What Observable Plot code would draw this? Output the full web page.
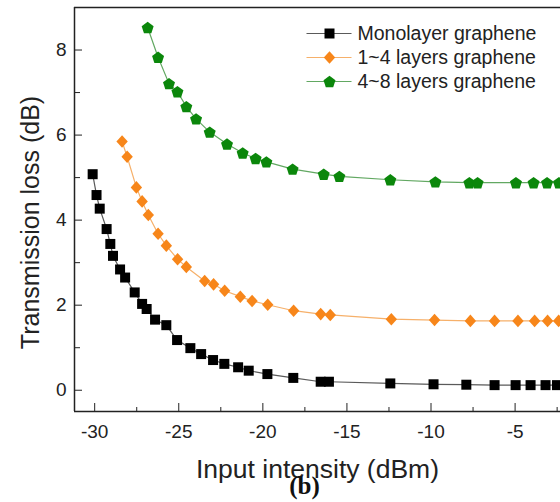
<!DOCTYPE html>
<html><head><meta charset="utf-8">
<script src="https://cdn.jsdelivr.net/npm/d3@7"></script>
<script src="https://cdn.jsdelivr.net/npm/@observablehq/plot@0.6"></script>
<style>body{margin:0;background:#fff;overflow:hidden} svg{display:block}</style>
</head><body><div id="chart"></div>
<script>
const seriesNames = ["Monolayer graphene", "1~4 layers graphene", "4~8 layers graphene"];

const xMono = [-30.12,-29.89,-29.70,-29.29,-29.07,-28.91,-28.49,-28.19,-27.62,-27.18,-26.91,-26.41,-25.74,-25.10,-24.31,-23.67,-22.96,-22.29,-21.47,-20.84,-19.73,-18.19,-16.56,-16.07,-12.42,-9.85,-7.90,-6.22,-4.97,-4.08,-3.19,-2.51];
const yMono = [5.08,4.59,4.27,3.79,3.44,3.16,2.84,2.65,2.30,2.03,1.91,1.66,1.53,1.18,0.99,0.85,0.71,0.62,0.54,0.46,0.38,0.29,0.20,0.20,0.16,0.14,0.13,0.12,0.12,0.12,0.12,0.12];

const xFew = [-28.37,-28.07,-27.52,-27.18,-26.81,-26.23,-25.74,-25.07,-24.55,-23.46,-22.93,-22.27,-21.34,-20.64,-19.71,-18.17,-16.56,-15.99,-12.36,-9.79,-7.66,-6.22,-4.83,-3.84,-3.07,-2.41];
const yFew = [5.85,5.49,4.77,4.44,4.12,3.68,3.40,3.08,2.90,2.57,2.49,2.34,2.20,2.10,2.01,1.87,1.79,1.77,1.67,1.65,1.63,1.63,1.63,1.63,1.63,1.63];

const xMulti = [-26.85,-26.23,-25.58,-25.08,-24.55,-23.97,-23.16,-22.13,-21.20,-20.43,-19.79,-18.23,-16.38,-15.45,-12.42,-9.74,-7.72,-7.23,-4.95,-3.90,-3.10,-2.39];
const yMulti = [8.53,7.83,7.21,7.02,6.67,6.38,6.07,5.79,5.58,5.45,5.37,5.20,5.08,5.03,4.95,4.90,4.88,4.88,4.88,4.88,4.88,4.88];

const xTicks = [-30,-25,-20,-15,-10,-5];
const xMinor = [-27.5,-22.5,-17.5,-12.5,-7.5,-2.5];
const yTicks = [0,2,4,6,8];
const yMinor = [1,3,5,7];
const xDomain = [-31.2, -2.3];
const yDomain = [-0.5, 9];

const squareSym = {draw(ctx){ctx.moveTo(-5,-5);ctx.lineTo(5,-5);ctx.lineTo(5,5);ctx.lineTo(-5,5);ctx.closePath();}};
const diamondSym = {draw(ctx){ctx.moveTo(0,-6.3);ctx.lineTo(5.7,0);ctx.lineTo(0,6.3);ctx.lineTo(-5.7,0);ctx.closePath();}};
const pentagonSym = {draw(ctx){const R=6.3;for(let k=0;k<5;k++){const a=-Math.PI/2+k*2*Math.PI/5;const px=R*Math.cos(a),py=R*Math.sin(a)+0.6;if(k===0)ctx.moveTo(px,py);else ctx.lineTo(px,py);}ctx.closePath();}};
const lineSym = {draw(ctx){ctx.moveTo(-23,0);ctx.lineTo(22,0);}};

const series = [
  {name: seriesNames[0], xs: xMono, ys: yMono, fill: "#000000", line: "#5a5a5a", symbol: squareSym},
  {name: seriesNames[1], xs: xFew, ys: yFew, fill: "#f7861a", line: "#f6b06a", symbol: diamondSym},
  {name: seriesNames[2], xs: xMulti, ys: yMulti, fill: "#0b870b", line: "#62a862", symbol: pentagonSym}
];

const marks = [
  Plot.ruleY([yDomain[1]], {stroke: "#222", strokeWidth: 1.5}),
  Plot.ruleY([yDomain[0]], {stroke: "#222", strokeWidth: 1.5}),
  Plot.ruleX([xDomain[0]], {stroke: "#222", strokeWidth: 1.5}),
  Plot.axisY({ticks: yTicks, tickSize: -8, tickPadding: 16, fontSize: 19, label: null}),
  Plot.axisY({ticks: yMinor, tickSize: -6, tickFormat: () => "", label: null}),
  Plot.axisX({ticks: xTicks, tickSize: -8, tickPadding: 21, fontSize: 19, label: null, tickFormat: d => String(d).replace("\u2212","-")}),
  Plot.axisX({ticks: xMinor, tickSize: -4, tickFormat: () => "", label: null})
];

series.forEach(s => {
  const data = s.xs.map((x, i) => ({x, y: s.ys[i]}));
  marks.push(Plot.line(data, {x: "x", y: "y", stroke: s.line, strokeWidth: 1.2}));
});
series.forEach(s => {
  const data = s.xs.map((x, i) => ({x, y: s.ys[i]}));
  marks.push(Plot.dot(data, {x: "x", y: "y", symbol: s.symbol, fill: s.fill, stroke: "none"}));
});

series.forEach((s, i) => {
  const dy = 26 + 24 * i;
  marks.push(Plot.dot([0], {frameAnchor: "top-left", dx: 255, dy, symbol: lineSym, stroke: s.line, strokeWidth: 1.2, fill: "none"}));
  marks.push(Plot.dot([0], {frameAnchor: "top-left", dx: 255, dy, symbol: s.symbol, fill: s.fill, stroke: "none"}));
  marks.push(Plot.text([s.name], {frameAnchor: "top-left", dx: 283, dy, textAnchor: "start", lineAnchor: "middle", fontSize: 19.5, fill: "#222"}));
});

marks.push(Plot.text(["Transmission loss (dB)"], {frameAnchor: "left", rotate: -90, dx: -44, dy: 13, textAnchor: "middle", lineAnchor: "middle", fontSize: 25, fill: "#222"}));
marks.push(Plot.text(["Input intensity (dBm)"], {frameAnchor: "bottom", dy: 58.5, textAnchor: "middle", lineAnchor: "middle", fontSize: 26.5, fill: "#222"}));
marks.push(Plot.text(["(b)"], {frameAnchor: "bottom", dx: -13, dy: 74, textAnchor: "middle", lineAnchor: "middle", fontSize: 25, fontWeight: "bold", fontFamily: "Liberation Serif, Times New Roman, serif", fill: "#111"}));

const chart = Plot.plot({
  width: 560,
  height: 502,
  marginTop: 7,
  marginBottom: 91,
  marginLeft: 74,
  marginRight: 0,
  x: {domain: xDomain},
  y: {domain: yDomain},
  style: {fontFamily: "Liberation Sans, Arial, sans-serif", color: "#222", background: "#fff"},
  marks
});
document.getElementById("chart").appendChild(chart);
</script>
</body></html>
